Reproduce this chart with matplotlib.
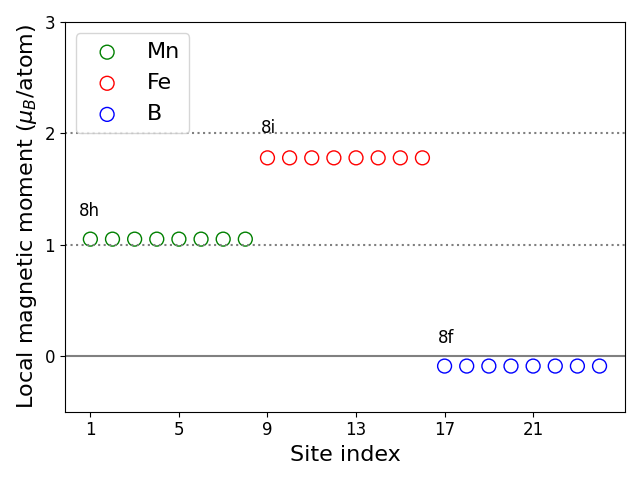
import numpy as np
import matplotlib
matplotlib.use('Agg')
import matplotlib.pyplot as plt

# site index -> local moment
mn_sites = [1, 2, 3, 4, 5, 6, 7, 8]
mn_moment = [1.05, 1.05, 1.05, 1.05, 1.05, 1.05, 1.05, 1.05]
fe_sites = [9, 10, 11, 12, 13, 14, 15, 16]
fe_moment = [1.78, 1.78, 1.78, 1.78, 1.78, 1.78, 1.78, 1.78]
b_sites = [17, 18, 19, 20, 21, 22, 23, 24]
b_moment = [-0.09, -0.09, -0.09, -0.09, -0.09, -0.09, -0.09, -0.09]

wyckoff = ['8h', '8i', '8f']
wyckoff_pos = [(0.5, 1.26), (8.7, 2.0), (16.7, 0.12)]

fig, ax = plt.subplots(figsize=(6.4, 4.8), dpi=100)

ax.scatter(mn_sites, mn_moment, s=100, facecolors='none', edgecolors='green', label='Mn')
ax.scatter(fe_sites, fe_moment, s=100, facecolors='none', edgecolors='red', label='Fe')
ax.scatter(b_sites, b_moment, s=100, facecolors='none', edgecolors='blue', label='B')

ax.axhline(0, color='gray')
ax.axhline(1, color='gray', linestyle=':')
ax.axhline(2, color='gray', linestyle=':')

for lab, (x, y) in zip(wyckoff, wyckoff_pos):
    ax.text(x, y, lab, fontsize=12)

ax.set_ylim(-0.5, 3)
ax.set_xticks([1, 5, 9, 13, 17, 21])
ax.set_yticks([0, 1, 2, 3])
ax.tick_params(labelsize=12)
ax.set_xlabel('Site index', fontsize=16)
ax.set_ylabel(r'Local magnetic moment ($\mu_B$/atom)', fontsize=16)
ax.legend(loc='upper left', fontsize=16)

fig.tight_layout()
fig.savefig('out.png')
